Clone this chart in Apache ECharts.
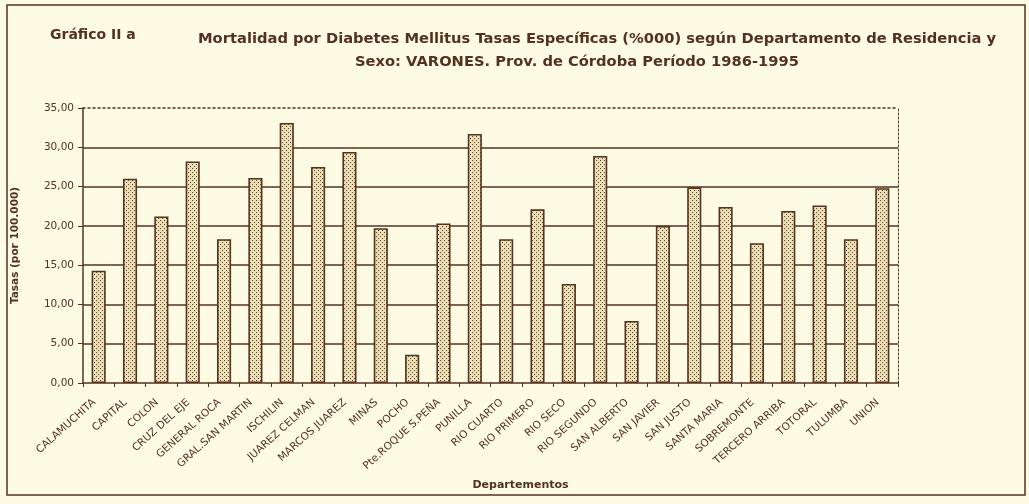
<!DOCTYPE html>
<html>
<head>
<meta charset="utf-8">
<script src="https://cdn.jsdelivr.net/npm/echarts@6/dist/echarts.min.js"></script>
<style>
  html, body { margin: 0; padding: 0; background: #fdfbe4; }
  #chart { width: 1029px; height: 504px; }
</style>
</head>
<body>
<div id="chart"></div>
<script>
// Departamentos de la Provincia de Córdoba
const departamentos = [
  'CALAMUCHITA', 'CAPITAL', 'COLON', 'CRUZ DEL EJE', 'GENERAL ROCA',
  'GRAL.SAN MARTIN', 'ISCHILIN', 'JUAREZ CELMAN', 'MARCOS JUAREZ', 'MINAS',
  'POCHO', 'Pte.ROQUE S.PEÑA', 'PUNILLA', 'RIO CUARTO', 'RIO PRIMERO',
  'RIO SECO', 'RIO SEGUNDO', 'SAN ALBERTO', 'SAN JAVIER', 'SAN JUSTO',
  'SANTA MARIA', 'SOBREMONTE', 'TERCERO ARRIBA', 'TOTORAL', 'TULUMBA', 'UNION'
];

// Tasas específicas por 100.000 (varones, 1986-1995)
const tasasVarones = [
  14.3, 26.0, 21.2, 28.2, 18.3,
  26.1, 33.1, 27.5, 29.4, 19.7,
  3.6, 20.3, 31.7, 18.3, 22.1,
  12.6, 28.9, 7.9, 20.0, 24.9,
  22.4, 17.8, 21.9, 22.6, 18.3, 24.8
];

// Escala del eje de tasas
const ejeTasas = { min: 0, max: 35, interval: 5 };

const tinta = '#55321f';
const fondo = '#fdfbe4';

// Relleno punteado de las barras
function tramaPuntos() {
  const c = document.createElement('canvas');
  c.width = 4; c.height = 4;
  const g = c.getContext('2d');
  g.fillStyle = '#ebdfb6';
  g.fillRect(0, 0, 4, 4);
  g.fillStyle = '#5e3d2a';
  g.fillRect(0, 0, 1, 1);
  g.fillRect(2, 2, 1, 1);
  return c;
}

const chart = echarts.init(document.getElementById('chart'), null, { renderer: 'canvas' });

const fuente = '"DejaVu Sans", "Liberation Sans", Arial, sans-serif';

chart.setOption({
  backgroundColor: fondo,
  animation: false,
  title: [
    {
      text: 'Gráfico II a',
      left: 50, top: 28, padding: 0,
      textStyle: { fontFamily: fuente, fontSize: 14, fontWeight: 'bold', color: tinta }
    },
    {
      text: 'Mortalidad por Diabetes Mellitus Tasas Específicas (%000) según Departamento de Residencia y',
      left: 198, top: 32, padding: 0,
      textStyle: { fontFamily: fuente, fontSize: 14.7, fontWeight: 'bold', color: tinta }
    },
    {
      text: 'Sexo: VARONES. Prov. de Córdoba Período 1986-1995',
      left: 355, top: 55, padding: 0,
      textStyle: { fontFamily: fuente, fontSize: 14.7, fontWeight: 'bold', color: tinta }
    }
  ],
  graphic: [
    {
      type: 'rect',
      shape: { x: 7, y: 5, width: 1018, height: 490 },
      style: { fill: 'none', stroke: tinta, lineWidth: 1.5 },
      silent: true
    }
  ],
  grid: { left: 83, right: 131, top: 108, bottom: 121, containLabel: false },
  xAxis: [
    {
      type: 'category',
      data: departamentos,
      position: 'bottom',
      boundaryGap: true,
      name: 'Departementos',
      nameLocation: 'middle',
      nameGap: 97,
      nameTextStyle: { fontFamily: fuente, fontSize: 11, fontWeight: 'bold', color: tinta, padding: [0, 0, 0, 60] },
      axisLine: { show: true, lineStyle: { color: tinta, width: 1.5 } },
      axisTick: { show: true, alignWithLabel: false, length: 4, lineStyle: { color: tinta, width: 1 } },
      axisLabel: {
        interval: 0, rotate: 42, margin: 14, padding: [0, 6, 0, 0],
        fontFamily: fuente, fontSize: 10.5, color: tinta
      },
      splitLine: { show: false }
    },
    {
      // borde superior punteado del área de trazado
      type: 'category',
      data: departamentos,
      position: 'top',
      axisLine: { show: true, onZero: false, lineStyle: { color: tinta, width: 1.5, type: [2, 3] } },
      axisTick: { show: false },
      axisLabel: { show: false },
      splitLine: { show: false }
    }
  ],
  yAxis: [
    {
      type: 'value',
      min: ejeTasas.min, max: ejeTasas.max, interval: ejeTasas.interval,
      name: 'Tasas (por 100.000)',
      nameLocation: 'middle',
      nameGap: 62,
      nameRotate: 90,
      nameTextStyle: { fontFamily: fuente, fontSize: 10.5, fontWeight: 'bold', color: tinta },
      axisLine: { show: true, lineStyle: { color: tinta, width: 1.5 } },
      axisTick: { show: true, length: 5, lineStyle: { color: tinta, width: 1 } },
      axisLabel: {
        margin: 9, fontFamily: fuente, fontSize: 10.5, color: tinta,
        formatter: v => v.toFixed(2).replace('.', ',')
      },
      splitLine: { show: true, showMinLine: false, showMaxLine: false, lineStyle: { color: tinta, width: 1.6 } }
    },
    {
      // borde derecho punteado del área de trazado
      type: 'value',
      position: 'right',
      min: ejeTasas.min, max: ejeTasas.max, interval: ejeTasas.interval,
      axisLine: { show: true, lineStyle: { color: tinta, width: 1, type: [2, 2] } },
      axisTick: { show: false },
      axisLabel: { show: false },
      splitLine: { show: false }
    }
  ],
  series: [
    {
      type: 'bar',
      xAxisIndex: 0,
      yAxisIndex: 0,
      data: tasasVarones,
      barWidth: '45%',
      itemStyle: {
        color: { image: tramaPuntos(), repeat: 'repeat' },
        borderColor: tinta,
        borderWidth: 1.6
      }
    }
  ]
});
</script>
</body>
</html>
